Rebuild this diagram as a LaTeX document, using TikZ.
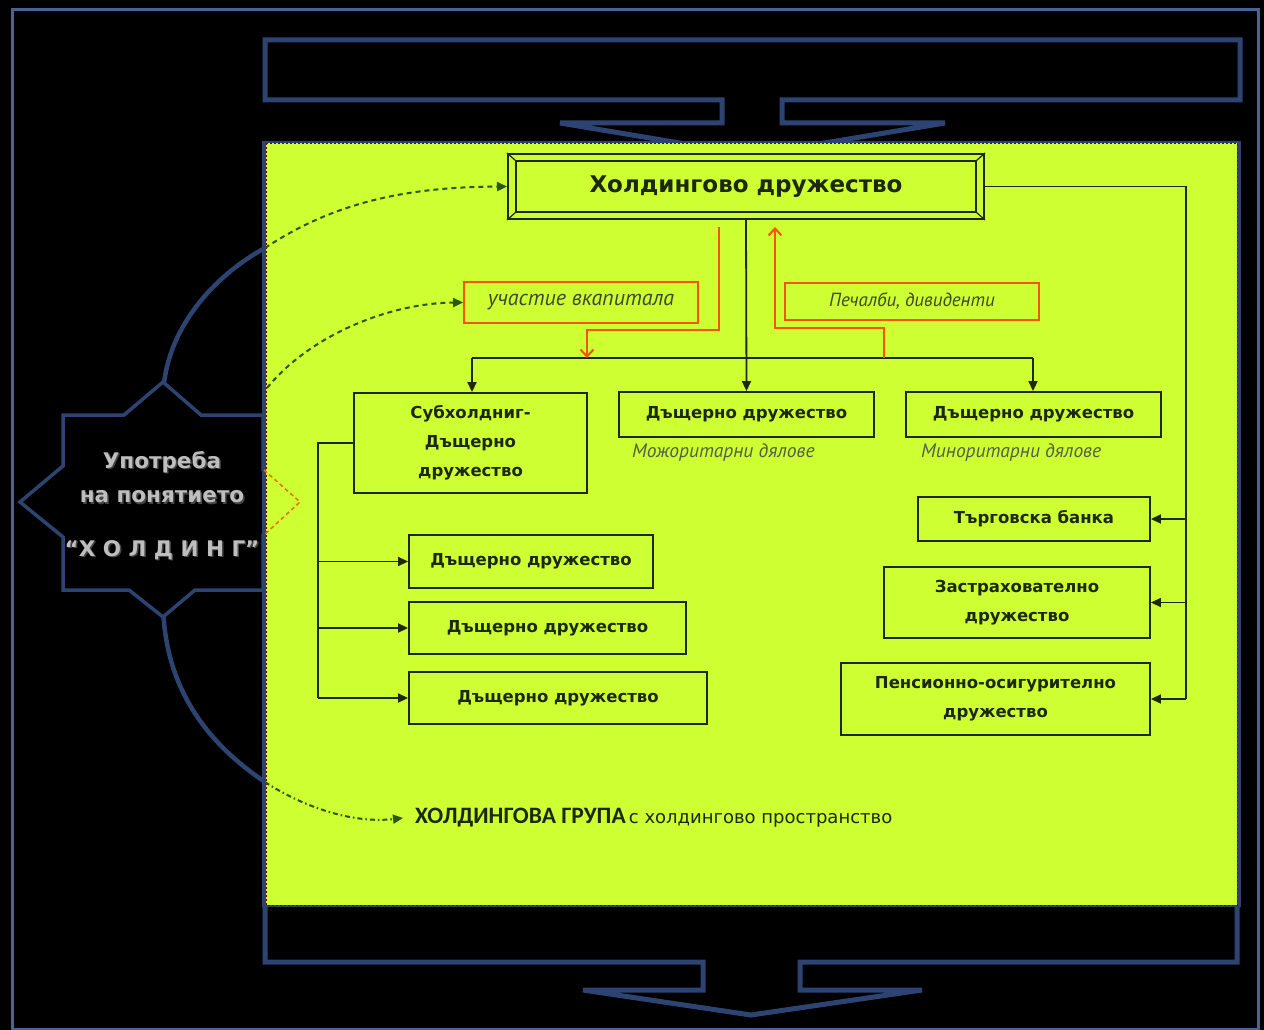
\documentclass[tikz,border=0pt]{standalone}
\usepackage{fontspec}
\setmainfont{DejaVu Sans}
\newfontfamily\ptit{PT Sans}
\newfontfamily\carl{Carlito}
\usetikzlibrary{arrows.meta}
\definecolor{ylw}{RGB}{206,255,50}
\definecolor{blu}{RGB}{45,68,115}
\definecolor{frm}{RGB}{70,100,150}
\definecolor{ln}{RGB}{28,40,8}
\definecolor{org}{RGB}{245,85,10}
\definecolor{dgrn}{RGB}{45,85,20}
\definecolor{stxt}{RGB}{190,190,190}
\definecolor{sshd}{RGB}{70,70,70}
\begin{document}
\begin{tikzpicture}[x=1pt,y=-1pt,
  box/.style={draw=ln,line width=1.9pt,fill=ylw,inner sep=0pt,align=center,text=ln,
    font=\bfseries\fontsize{16.5}{29}\selectfont},
  obox/.style={draw=org,line width=1.8pt,fill=ylw,inner sep=0pt,text=ln!85},
  capt/.style={font=\ptit\itshape\fontsize{19.5}{20}\selectfont,text=ln!75,anchor=west,inner sep=0pt},
  wire/.style={draw=ln,line width=1.8pt},
  conn/.style={draw=ln,line width=1.8pt,-{Triangle[length=10pt,width=9pt]}},
  oconn/.style={draw=org,line width=2pt,-{Straight Barb[length=7pt,width=13pt]}},
  dsh/.style={draw=dgrn,line width=2pt,dash pattern=on 5pt off 4pt,-{Triangle[length=10pt,width=9pt]}},
  dshdot/.style={draw=dgrn,line width=2pt,dash pattern=on 5pt off 3pt on 1.5pt off 3pt,-{Triangle[length=10pt,width=9pt]}},
  bluline/.style={draw=blu,line width=5pt,line join=miter},
  stext/.style={inner sep=0pt,font=\bfseries\fontsize{21.5}{24}\selectfont}
]
\useasboundingbox (0,0) rectangle (1264,1030);
\fill[black] (0,0) rectangle (1264,1030);
\draw[frm,line width=3pt] (12,10) rectangle (1258,1029);

% top band with arrow
\draw[bluline] (265,40) -- (1240,40) -- (1240,100) -- (782,100) -- (782,123) -- (945,123)
  -- (752,155) -- (560,123) -- (722,123) -- (722,100) -- (265,100) -- cycle;
% bottom band with arrow
\draw[bluline] (265,895) -- (265,962) -- (703,962) -- (703,990) -- (583,990) -- (751,1015)
  -- (922,990) -- (800,990) -- (800,962) -- (1237,962) -- (1237,895);

% circle arcs
\draw[blu,line width=4.5pt] (163,400) .. controls (163,330) and (215,275) .. (265,248);
\draw[blu,line width=4.5pt] (163,600) .. controls (163,690) and (210,745) .. (265,782);

% star
\draw[blu,line width=3.5pt,fill=black,line join=miter] (163,382) -- (201,415) -- (263,415) -- (263,470) -- (300,502)
  -- (263,535) -- (263,590) -- (195,590) -- (163,617) -- (129,590) -- (63,590) -- (63,537)
  -- (20,502) -- (63,466) -- (63,415) -- (124,415) -- cycle;

% yellow panel
\draw[blu,line width=4pt] (264,143) rectangle (1239,905);
\fill[ylw] (266,143) rectangle (1237,905);
\draw[red!45!black,line width=0.8pt,dash pattern=on 2pt off 2pt] (266,143) rectangle (1237,905);
\draw[orange!90!black,line width=1.5pt,dash pattern=on 4pt off 3pt] (264,470) -- (300,502) -- (264,535);

% star text
\foreach \yy/\tt in {462/{Употреба},497/{на понятието},550/{“Х О Л Д И Н Г”}}{
  \node[stext,text=sshd] at (163.5,\yy+1.5) {\tt};
}
\node[stext,text=stxt] (st1) at (162,462) {Употреба};
\node[stext,text=stxt] (st2) at (162,497) {на понятието};
\node[stext,text=stxt] (st3) at (162,550) {“Х О Л Д И Н Г”};

% nodes
\node[box,line width=2pt,minimum width=476pt,minimum height=65pt,font=\bfseries\fontsize{23}{26}\selectfont] (hold) at (746,186.5) {Холдингово дружество};
\draw[ln,line width=1.6pt] ([shift={(9,8)}]hold.north west) rectangle ([shift={(-9,-8)}]hold.south east);
\draw[ln,line width=1.2pt] (hold.north west) -- ++(9,8) (hold.north east) -- ++(-9,8)
  (hold.south west) -- ++(9,-8) (hold.south east) -- ++(-9,-8);

\node[obox,minimum width=234pt,minimum height=41pt,font=\ptit\itshape\fontsize{22}{22}\selectfont] (uch) at (581,302.5) {участие вкапитала};
\node[obox,minimum width=254pt,minimum height=37pt,font=\ptit\itshape\fontsize{19}{20}\selectfont] (pech) at (912,301.5) {Печалби, дивиденти};

\node[box,minimum width=233pt,minimum height=100pt] (sub) at (470.5,443) {Субхолдниг-\\Дъщерно\\дружество};
\node[box,minimum width=255pt,minimum height=45pt] (d1) at (746.5,414.5) {Дъщерно дружество};
\node[box,minimum width=255pt,minimum height=45pt] (d2) at (1033.5,414.5) {Дъщерно дружество};
\node[capt] (c1) at (632,453) {Можоритарни дялове};
\node[capt] (c2) at (921,453) {Миноритарни дялове};

\node[box,minimum width=232pt,minimum height=44pt] (bank) at (1034,519) {Търговска банка};
\node[box,minimum width=266pt,minimum height=71pt] (ins) at (1017,602.5) {Застрахователно\\дружество};
\node[box,minimum width=309pt,minimum height=72pt] (pens) at (995.5,699) {Пенсионно-осигурително\\дружество};

\node[box,minimum width=244pt,minimum height=53pt] (s1) at (531,561.5) {Дъщерно дружество};
\node[box,minimum width=277pt,minimum height=52pt] (s2) at (547.5,628) {Дъщерно дружество};
\node[box,minimum width=298pt,minimum height=52pt] (s3) at (558,698) {Дъщерно дружество};

\node[anchor=west,inner ysep=0pt,inner xsep=12pt,text=ln] (grp) at (403,818)
  {{\carl\bfseries\fontsize{23.5}{24}\selectfont ХОЛДИНГОВА ГРУПА} {\fontsize{18}{20}\selectfont с холдингово пространство}};

% connectors
\coordinate (busL) at (472,358);
\coordinate (busR) at (1033,358);
\draw[wire] (busL) -- (busR);
\draw[conn] (hold.south) -- (d1.north);
\draw[conn] (busL) -- (busL |- sub.north);
\draw[conn] (busR) -- (busR |- d2.north);

\coordinate (oin) at (587,358);
\coordinate (oout) at (884,358);
\draw[oconn] ([shift={(-27,7)}]hold.south) -- (719,330) -| (oin);
\draw[oconn] (oout) -- (884,328) -| ([shift={(29,7)}]hold.south);

\coordinate (rv) at (1186,0);
\draw[wire] (hold.east) -| (rv |- pens.east);
\draw[conn] (rv |- bank.east) -- (bank.east);
\draw[conn] (rv |- ins.east) -- (ins.east);
\draw[conn] (rv |- pens.east) -- (pens.east);

\coordinate (lv) at (318,0);
\draw[wire] (sub.west) -| (lv |- s3.west);
\draw[conn] (lv |- s1.west) -- (s1.west);
\draw[conn] (lv |- s2.west) -- (s2.west);
\draw[conn] (lv |- s3.west) -- (s3.west);

\coordinate (a1) at (265,248);
\coordinate (a2) at (267,388);
\coordinate (a3) at (265,782);
\draw[dsh] (a1) .. controls (330,205) and (400,187) .. (hold.west);
\draw[dsh] (a2) .. controls (310,335) and (390,303) .. (uch.west);
\draw[dshdot] (a3) .. controls (300,805) and (350,824) .. (grp.west);
\end{tikzpicture}
\end{document}
